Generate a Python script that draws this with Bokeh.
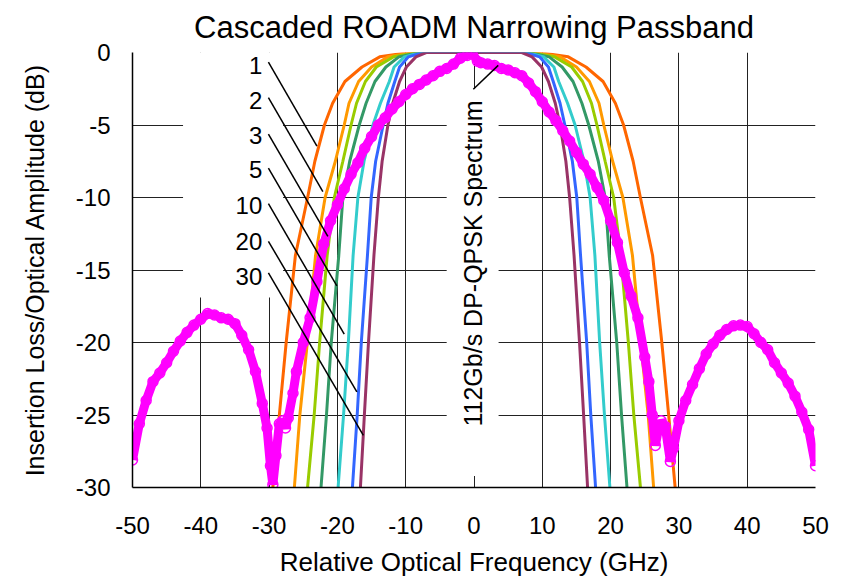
import math
from bokeh.plotting import figure
from bokeh.models import Range1d, FixedTicker
from bokeh.embed import file_html
from bokeh.resources import INLINE
from bokeh.core.properties import value

FONT = "Liberation Sans"

# ---------------- data ----------------
# attenuation levels (dB) at which the half-bandwidth (GHz) of each cascaded filter was read
levels_db = [0, -0.3, -1, -2, -3.5, -5, -7.5, -10, -14, -20, -25, -30]
cascade_counts = ["1", "2", "3", "5", "10", "20", "30"]
halfwidth_1 = [9.5, 13.8, 16.4, 18.9, 20.7, 21.9, 23.3, 24.36, 26.15, 27.5, 28.5, 29.45]
halfwidth_2 = [8.7, 12.6, 15.0, 16.9, 18.3, 19.0, 20.3, 21.8, 23.2, 24.4, 25.5, 26.3]
halfwidth_3 = [8.3, 11.8, 14.3, 15.9, 17.2, 18.0, 19.2, 20.45, 21.5, 22.6, 23.4, 24.37]
halfwidth_5 = [8.0, 11.0, 12.9, 14.5, 15.8, 16.8, 18.2, 19.2, 19.8, 20.9, 21.6, 22.4]
halfwidth_10 = [7.8, 10.2, 11.7, 12.4, 13.7, 14.8, 16.1, 17.0, 17.7, 18.4, 19.1, 19.9]
halfwidth_20 = [7.5, 9.6, 10.9, 11.6, 12.6, 13.3, 14.4, 15.05, 15.6, 16.5, 17.1, 17.8]
halfwidth_30 = [7.0, 8.5, 9.9, 10.9, 11.9, 12.6, 13.45, 14.0, 14.65, 15.45, 16.05, 16.63]

# 112Gb/s DP-QPSK optical spectrum
spec_freq = [-50, -49, -48, -47, -46, -45, -44, -43, -42, -41, -40, -39, -38, -37, -36,
             -35, -34, -33, -32, -31, -30.3, -29.8, -29.45, -29.0, -28.5, -28.0, -27.6,
             -27.2, -26.5, -26, -25, -24, -23, -22, -21, -20, -19, -18, -17, -16, -15,
             -14, -13, -12, -11, -10, -9, -8, -7, -6, -5, -4, -3, -2, -1, -0.3, 0.5, 1,
             2, 3, 4, 5, 6, 7, 8, 9, 10, 11, 12, 13, 14, 15, 16, 17, 18, 19, 20, 21, 22,
             23, 24, 25, 25.6, 26.1, 26.55, 27, 27.4, 28, 28.75, 29.2, 30, 31, 32, 33,
             34, 35, 36, 37, 38, 39, 40, 41, 42, 43, 44, 45, 46, 47, 48, 49, 50]
spec_db = [-28.1, -25.6, -24.0, -22.7, -22.1, -21.4, -20.6, -19.9, -19.3, -18.8, -18.4,
           -18.0, -18.1, -18.3, -18.4, -18.7, -19.5, -20.5, -22.0, -24.2, -25.9, -28.5,
           -29.8, -27.8, -25.6, -25.4, -25.9, -25.2, -23.5, -22.0, -20.0, -18.3, -15.8,
           -13.2, -11.6, -10.5, -9.4, -8.4, -7.6, -6.6, -5.8, -5.0, -4.5, -3.9, -3.4,
           -2.9, -2.5, -2.2, -1.9, -1.6, -1.3, -1.1, -0.8, -0.4, -0.2, 0.0, -0.6, -0.7,
           -0.8, -0.9, -1.1, -1.2, -1.4, -1.6, -2.1, -2.7, -3.4, -4.1, -4.7, -5.4, -6.1,
           -6.9, -7.7, -8.4, -9.3, -10.2, -11.6, -13.1, -15.2, -16.8, -18.3, -21.0,
           -22.7, -25.0, -27.1, -26.0, -25.4, -25.8, -28.2, -27.3, -25.4, -24.0, -22.9,
           -21.8, -20.8, -20.1, -19.5, -19.1, -18.85, -18.8, -18.9, -19.4, -20.0, -20.5,
           -21.4, -22.1, -22.8, -23.7, -24.8, -26.0, -28.5]

x_ticks = [-50, -40, -30, -20, -10, 0, 10, 20, 30, 40, 50]
y_ticks = [-30, -25, -20, -15, -10, -5, 0]

# ---------------- styles ----------------
filter_colors = ["#FF6600", "#FF9900", "#99CC00", "#339966", "#33CCCC", "#3366FF", "#993366"]
halfwidths = [halfwidth_1, halfwidth_2, halfwidth_3, halfwidth_5,
              halfwidth_10, halfwidth_20, halfwidth_30]
MAGENTA = "#FF00FF"

p = figure(width=836, height=579,
           x_range=Range1d(-50, 50), y_range=Range1d(-30, 0),
           output_backend="svg", toolbar_location=None,
           min_border_left=132, min_border_right=21,
           min_border_top=52, min_border_bottom=82,
           title="Cascaded ROADM Narrowing Passband")

p.background_fill_color = "white"
p.border_fill_color = "white"
p.outline_line_color = None

p.title.text_font = FONT
p.title.text_font_size = "31px"
p.title.text_font_style = "normal"
p.title.text_color = "black"
p.title.align = "center"
p.title.standoff = 15

for ax in (p.xaxis[0], p.yaxis[0]):
    ax.major_tick_in = 0
    ax.major_tick_out = 0
    ax.minor_tick_in = 0
    ax.minor_tick_out = 0
    ax.axis_line_color = "black"
    ax.axis_line_width = 1.5
    ax.major_label_text_font = FONT
    ax.major_label_text_font_size = "24px"
    ax.major_label_text_color = "black"
    ax.axis_label_text_font = FONT
    ax.axis_label_text_font_style = "normal"
    ax.axis_label_text_color = "black"

p.xaxis.ticker = FixedTicker(ticks=x_ticks)
p.yaxis.ticker = FixedTicker(ticks=y_ticks)
p.xaxis.major_label_overrides = {t: str(t) for t in x_ticks}
p.yaxis.major_label_overrides = {t: str(t) for t in y_ticks}
p.xaxis.major_label_standoff = 29
p.yaxis.major_label_standoff = 22
p.xaxis.axis_label = "Relative Optical Frequency (GHz)"
p.yaxis.axis_label = "Insertion Loss/Optical Amplitude (dB)"
p.xaxis.axis_label_text_font_size = "26px"
p.yaxis.axis_label_text_font_size = "25px"
p.xaxis.axis_label_standoff = 10
p.yaxis.axis_label_standoff = 24

p.xgrid.ticker = FixedTicker(ticks=x_ticks)
p.ygrid.ticker = FixedTicker(ticks=y_ticks)
for g in (p.xgrid[0], p.ygrid[0]):
    g.grid_line_color = "#222222"
    g.grid_line_width = 1

# white backgrounds of the text boxes (hide the grid behind the labels)
p.quad(left=[-42.6, -4.0], right=[-27.95, 3.6], top=[1, -2.47], bottom=[-16.9, -29.2],
       fill_color="white", line_color=None)

# cascaded filter passbands
for hw, col in zip(halfwidths, filter_colors):
    xs = [-w for w in reversed(hw)] + list(hw)
    ys = list(reversed(levels_db)) + list(levels_db)
    p.line(xs, ys, line_color=col, line_width=3)

# signal spectrum
p.line(spec_freq, spec_db, line_color=MAGENTA, line_width=9)
p.scatter(spec_freq, spec_db, size=10, marker="circle", fill_color=None,
          line_color=MAGENTA, line_width=1.5)

# leader lines for the cascade-count labels
p.segment(x0=[-30.1] * 7,
          y0=[-0.67, -3.11, -5.63, -7.98, -10.43, -13.02, -15.19],
          x1=[-23.0, -22.13, -21.4, -20.08, -19.0, -17.15, -16.2],
          y1=[-6.45, -9.59, -12.68, -16.1, -19.42, -23.41, -26.4],
          line_color="black", line_width=1.5)
p.text(x=[-31.0] * 7, y=[-0.89, -3.29, -5.7, -8.1, -10.57, -13.04, -15.44],
       text=cascade_counts, text_align="right", text_baseline="middle",
       text_font=value(FONT), text_font_size="24px", text_color="black")

# spectrum label
p.segment(x0=[-0.1], y0=[-2.54], x1=[3.55], y1=[-0.89], line_color="black", line_width=1.5)
p.text(x=[-0.1], y=[-14.55], text=["112Gb/s DP-QPSK Spectrum"], angle=math.pi / 2,
       text_align="center", text_baseline="middle",
       text_font=value(FONT), text_font_size="25px", text_color="black")

open("out.html", "w").write(file_html(p, INLINE))
